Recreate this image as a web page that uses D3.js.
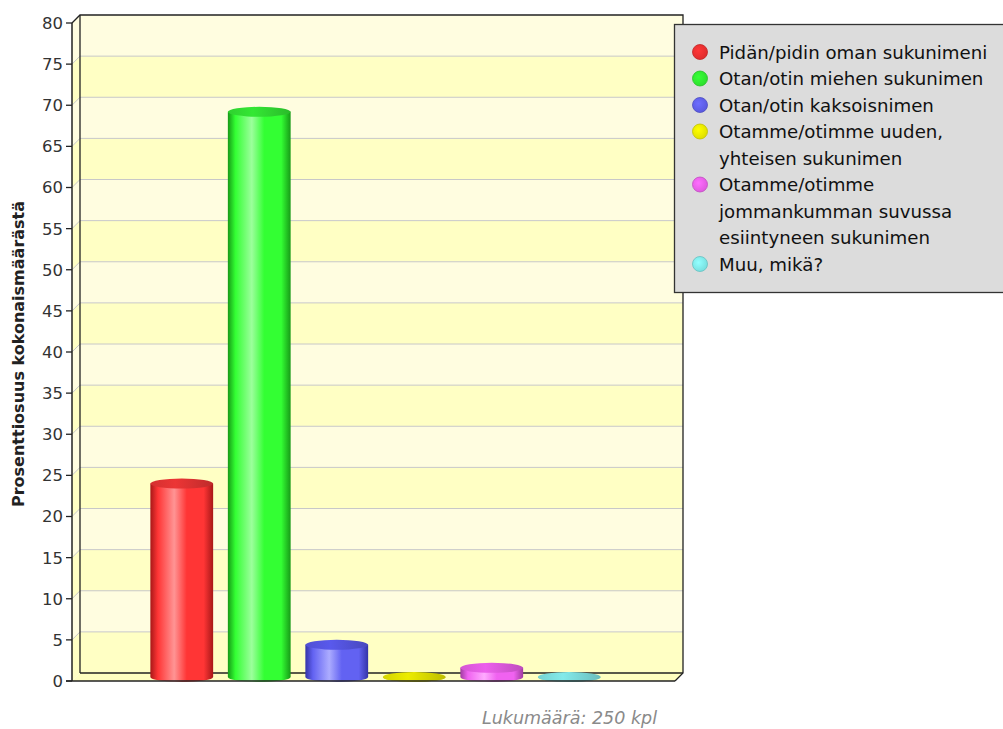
<!DOCTYPE html>
<html>
<head>
  <meta charset="utf-8">
  <style type="text/css">
    body { margin: 0; background: #fff; }
    text { font-family: "DejaVu Sans", sans-serif; }
  </style>
  <script src="https://d3js.org/d3.v7.min.js"></script>
</head>
<body>
  <div id="chart"></div>
  <script type="text/javascript">
    // values (percent of 250 answers)
    var categories = ["Pidän/pidin oman sukunimeni", "Otan/otin miehen sukunimen",
      "Otan/otin kaksoisnimen", "Otamme/otimme uuden, yhteisen sukunimen",
      "Otamme/otimme jommankumman suvussa esiintyneen sukunimen", "Muu, mikä?"];
    var percents = [24.0, 69.2, 4.4, 0.4, 1.6, 0.4];
    var legendLines = [
      ["Pidän/pidin oman sukunimeni"],
      ["Otan/otin miehen sukunimen"],
      ["Otan/otin kaksoisnimen"],
      ["Otamme/otimme uuden,", "yhteisen sukunimen"],
      ["Otamme/otimme", "jommankumman suvussa", "esiintyneen sukunimen"],
      ["Muu, mikä?"]
    ];
    var yTicks = d3.range(0, 81, 5);
    var yTitle = "Prosenttiosuus kokonaismäärästä";
    var footer = "Lukumäärä: 250 kpl";

    // cylinder colours: dark edge, base, highlight, top
    var palette = [
      { dark: "#a81818", base: "#ff3535", hi: "#ff9494", top: "#d43030", dot: "#ff3333" },
      { dark: "#179a17", base: "#33ff33", hi: "#9cff9c", top: "#2fd02f", dot: "#33ff33" },
      { dark: "#3434a8", base: "#6262f2", hi: "#acacff", top: "#5050d4", dot: "#6666ff" },
      { dark: "#9c9c00", base: "#e6e600", hi: "#ffff80", top: "#d4d400", dot: "#ffff00" },
      { dark: "#a03ca0", base: "#f062f0", hi: "#ffaaff", top: "#d456d4", dot: "#ff66ff" },
      { dark: "#5aa8a8", base: "#86e4e4", hi: "#c4ffff", top: "#76d2d2", dot: "#88ffff" }
    ];

    var W = 1003, H = 729;
    var depth = 8;
    var x0 = 72, x1 = 675;

    var svg = d3.select("#chart").append("svg")
      .attr("width", W).attr("height", H);
    var defs = svg.append("defs");

    var y = d3.scaleLinear().domain([0, 80]).range([681, 23]);
    var x = d3.scaleBand().domain(categories).range([143, 608])
      .paddingInner(0.19).paddingOuter(0.095);

    // back wall bands + side wall
    var bands = d3.range(0, 80, 5);
    var g = svg.append("g");
    bands.forEach(function(b, i) {
      var col = i % 2 === 0 ? "#ffffc4" : "#fffde0";
      g.append("rect")
        .attr("x", x0 + depth).attr("y", y(b + 5) - depth)
        .attr("width", x1 - x0).attr("height", y(b) - y(b + 5))
        .attr("fill", col);
      g.append("polygon")
        .attr("points", [[x0, y(b)], [x0 + depth, y(b) - depth],
          [x0 + depth, y(b + 5) - depth], [x0, y(b + 5)]].join(" "))
        .attr("fill", col);
    });
    // grid lines
    yTicks.slice(1, -1).forEach(function(t) {
      g.append("polyline")
        .attr("points", [[x0, y(t)], [x0 + depth, y(t) - depth], [x1 + depth, y(t) - depth]].join(" "))
        .attr("fill", "none").attr("stroke", "#c8c8c8").attr("stroke-width", 1);
    });
    // floor
    g.append("polygon")
      .attr("points", [[x0, y(0)], [x1, y(0)], [x1 + depth, y(0) - depth], [x0 + depth, y(0) - depth]].join(" "))
      .attr("fill", "#ffffc0");
    // frame
    var frame = "#222";
    g.append("path")
      .attr("d", "M" + x0 + "," + y(80) + "L" + (x0 + depth) + "," + (y(80) - depth) +
        "L" + (x1 + depth) + "," + (y(80) - depth) + "L" + (x1 + depth) + "," + (y(0) - depth) +
        "L" + (x1) + "," + y(0))
      .attr("fill", "none").attr("stroke", frame).attr("stroke-width", 1.3);
    g.append("line")
      .attr("x1", x0 + depth).attr("x2", x0 + depth)
      .attr("y1", y(80) - depth).attr("y2", y(0) - depth)
      .attr("stroke", frame).attr("stroke-width", 1.3);
    g.append("line")
      .attr("x1", x0 + depth).attr("x2", x1 + depth)
      .attr("y1", y(0) - depth).attr("y2", y(0) - depth)
      .attr("stroke", frame).attr("stroke-width", 1.3);

    // cylinders
    var ry = 5;
    categories.forEach(function(c, i) {
      var p = palette[i];
      var gid = "grad" + i, tid = "top" + i;
      var lg = defs.append("linearGradient").attr("id", gid)
        .attr("x1", "0%").attr("x2", "100%").attr("y1", "0%").attr("y2", "0%");
      [[0, p.dark], [0.12, p.base], [0.38, p.hi], [0.58, p.base], [0.85, p.base], [1, p.dark]]
        .forEach(function(s) { lg.append("stop").attr("offset", s[0]).attr("stop-color", s[1]); });
      var tg = defs.append("linearGradient").attr("id", tid)
        .attr("x1", "0%").attr("x2", "100%").attr("y1", "0%").attr("y2", "0%");
      [[0, p.top], [0.4, d3.color(p.top).brighter(0.3)], [1, d3.color(p.top).darker(0.3)]]
        .forEach(function(s) { tg.append("stop").attr("offset", s[0]).attr("stop-color", s[1]); });

      var left = x(c), rx = x.bandwidth() / 2, right = left + 2 * rx, cx = left + rx;
      var yb = y(0) - depth / 2;
      var yt = Math.min(y(percents[i]), yb);
      svg.append("path")
        .attr("d", "M" + left + "," + yt + "L" + left + "," + yb +
          "A" + rx + "," + ry + " 0 0 0 " + right + "," + yb + "L" + right + "," + yt + "Z")
        .attr("fill", "url(#" + gid + ")");
      svg.append("ellipse")
        .attr("cx", cx).attr("cy", yt).attr("rx", rx).attr("ry", ry)
        .attr("fill", "url(#" + tid + ")");
    });

    // y axis
    svg.append("line")
      .attr("x1", x0).attr("x2", x0).attr("y1", y(80)).attr("y2", y(0))
      .attr("stroke", frame).attr("stroke-width", 1.5);
    svg.append("line")
      .attr("x1", x0 - 6).attr("x2", x1).attr("y1", y(0)).attr("y2", y(0))
      .attr("stroke", frame).attr("stroke-width", 1.5);
    yTicks.forEach(function(t) {
      svg.append("line")
        .attr("x1", x0 - 6).attr("x2", x0).attr("y1", y(t)).attr("y2", y(t))
        .attr("stroke", frame).attr("stroke-width", 1.3);
      svg.append("text")
        .attr("x", x0 - 9).attr("y", y(t)).attr("dy", "0.36em")
        .attr("text-anchor", "end").attr("font-size", 16.5).attr("fill", "#333")
        .text(t);
    });
    svg.append("text")
      .attr("transform", "translate(24,354) rotate(-90)")
      .attr("text-anchor", "middle").attr("font-size", 16).attr("font-weight", "bold")
      .attr("fill", "#222").text(yTitle);

    svg.append("text")
      .attr("x", 657).attr("y", 724).attr("text-anchor", "end")
      .attr("font-size", 17.5).attr("font-style", "italic").attr("fill", "#8a8a8a")
      .text(footer);

    // legend
    var lgd = svg.append("g");
    lgd.append("rect")
      .attr("x", 674.5).attr("y", 24.5).attr("width", 340).attr("height", 268)
      .attr("fill", "#dcdcdc").attr("stroke", "#333").attr("stroke-width", 1.3);
    var row = 0;
    legendLines.forEach(function(lines, i) {
      var rg = defs.append("radialGradient").attr("id", "dot" + i)
        .attr("cx", "40%").attr("cy", "40%").attr("r", "65%");
      rg.append("stop").attr("offset", 0).attr("stop-color", d3.color(palette[i].dot).brighter(0.2));
      rg.append("stop").attr("offset", 1).attr("stop-color", d3.color(palette[i].dot).darker(0.4));
      var ty = 52 + row * 26.5;
      lgd.append("circle")
        .attr("cx", 700).attr("cy", ty).attr("r", 7.5)
        .attr("fill", "url(#dot" + i + ")")
        .attr("stroke", d3.color(palette[i].dot).darker(0.8)).attr("stroke-width", 0.8);
      lines.forEach(function(l, k) {
        lgd.append("text")
          .attr("x", 719).attr("y", ty + k * 26.5).attr("dy", "0.36em")
          .attr("font-size", 18.2).attr("fill", "#111").text(l);
      });
      row += lines.length;
    });
  </script>
</body>
</html>
